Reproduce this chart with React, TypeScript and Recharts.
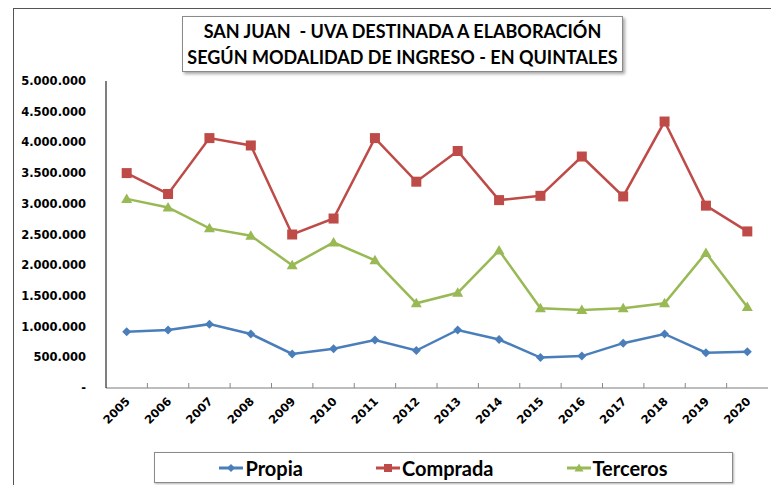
import React from "react";
import { LineChart, Line, XAxis, YAxis } from "recharts";

const years = ["2005", "2006", "2007", "2008", "2009", "2010", "2011", "2012", "2013", "2014", "2015", "2016", "2017", "2018", "2019", "2020"];
const propia = [917000, 945000, 1040000, 880000, 555000, 640000, 780000, 610000, 945000, 790000, 495000, 520000, 730000, 880000, 575000, 590000];
const comprada = [3500000, 3160000, 4070000, 3950000, 2500000, 2760000, 4070000, 3360000, 3860000, 3060000, 3130000, 3770000, 3120000, 4340000, 2970000, 2550000];
const terceros = [3080000, 2940000, 2600000, 2480000, 2000000, 2370000, 2080000, 1380000, 1550000, 2240000, 1300000, 1270000, 1300000, 1380000, 2200000, 1320000];
const yTicks = [0, 500000, 1000000, 1500000, 2000000, 2500000, 3000000, 3500000, 4000000, 4500000, 5000000];

const BLUE = "#4A7EBB";
const RED = "#BE4B48";
const GREEN = "#98B954";

const data = years.map((y, i) => ({
  year: y,
  Propia: propia[i],
  Comprada: comprada[i],
  Terceros: terceros[i],
}));

const fmt = (v: number) => (v === 0 ? "-" : String(v).replace(/\B(?=(\d{3})+(?!\d))/g, "."));

const Diamond = (p: any) => {
  const { cx, cy } = p;
  if (cx == null || cy == null) return null;
  return <path d={`M${cx},${cy - 4.5}L${cx + 4.5},${cy}L${cx},${cy + 4.5}L${cx - 4.5},${cy}Z`} fill={BLUE} />;
};
const Square = (p: any) => {
  const { cx, cy } = p;
  if (cx == null || cy == null) return null;
  return <rect x={cx - 5} y={cy - 5} width={10} height={10} fill={RED} />;
};
const Triangle = (p: any) => {
  const { cx, cy } = p;
  if (cx == null || cy == null) return null;
  return <path d={`M${cx},${cy - 5.5}L${cx + 5.5},${cy + 4}L${cx - 5.5},${cy + 4}Z`} fill={GREEN} />;
};

const BAND = 662 / 16;

const XTick = (p: any) => {
  const { x, y, payload, index } = p;
  return (
    <g>
      {index > 0 && <line x1={x - BAND / 2} x2={x - BAND / 2} y1={y - 5} y2={y} stroke="#888" />}
      <g transform={`translate(${x + 4},${y + 14}) rotate(-45)`}>
        <text
          x={0}
          y={0}
          textAnchor="end"
          fontFamily="DejaVu Sans, sans-serif"
          fontWeight="bold"
          fontSize={11.5}
          fill="#000"
        >
          {payload.value}
        </text>
      </g>
    </g>
  );
};

const legendItems = [
  { name: "Propia", color: BLUE, shape: "diamond" },
  { name: "Comprada", color: RED, shape: "square" },
  { name: "Terceros", color: GREEN, shape: "triangle" },
];

const LegendIcon = ({ color, shape }: { color: string; shape: string }) => (
  <svg width={24} height={12} style={{ marginRight: 2 }}>
    <line x1={0} x2={24} y1={6} y2={6} stroke={color} strokeWidth={3} />
    {shape === "diamond" && <path d="M12,2L16,6L12,10L8,6Z" fill={color} />}
    {shape === "square" && <rect x={8} y={2} width={8} height={8} fill={color} />}
    {shape === "triangle" && <path d="M12,1.5L16.5,9.5L7.5,9.5Z" fill={color} />}
  </svg>
);

export default function App() {
  return (
    <div style={{ position: "absolute", left: 0, top: 0, width: 771, height: 485, background: "#fff", overflow: "hidden" }}>
      <div
        style={{
          position: "absolute",
          left: 13,
          top: 8,
          width: 771,
          height: 485,
          borderLeft: "1px solid #555",
          borderTop: "1px solid #555",
        }}
      />
      <LineChart width={771} height={485} data={data} margin={{ top: 81, right: 3, left: 0, bottom: 0 }} style={{ position: "absolute", left: 0, top: 0 }}>
        <XAxis
          dataKey="year"
          height={97}
          tickLine={false}
          tickSize={0}
          tickMargin={0}
          padding={{ left: BAND / 2, right: BAND / 2 }}
          axisLine={{ stroke: "#7a7a7a" }}
          tick={<XTick />}
          interval={0}
        />
        <XAxis xAxisId="top" orientation="top" dataKey="year" height={0} tick={false} tickLine={false} axisLine={{ stroke: "#7a7a7a" }} />
        <YAxis yAxisId="right" orientation="right" width={0} domain={[0, 5000000]} tick={false} tickLine={false} axisLine={{ stroke: "#7a7a7a" }} />
        <YAxis
          width={106}
          domain={[0, 5000000]}
          ticks={yTicks}
          tickFormatter={fmt}
          tickLine={false}
          tickSize={0}
          tickMargin={20}
          axisLine={{ stroke: "#000" }}
          tick={{ fontFamily: "DejaVu Sans, sans-serif", fontWeight: "bold", fontSize: 11.5, fill: "#000" }}
          interval={0}
        />
        <Line dataKey="Propia" stroke={BLUE} strokeWidth={2.5} dot={<Diamond />} isAnimationActive={false} />
        <Line dataKey="Comprada" stroke={RED} strokeWidth={2.5} dot={<Square />} isAnimationActive={false} />
        <Line dataKey="Terceros" stroke={GREEN} strokeWidth={2.5} dot={<Triangle />} isAnimationActive={false} />
      </LineChart>
      <div
        style={{
          position: "absolute",
          left: 182,
          top: 16,
          width: 439,
          height: 53,
          border: "1px solid #8a8a8a",
          background: "#fff",
          boxShadow: "2px 2px 3px rgba(0,0,0,0.35)",
          fontFamily: "Lato, sans-serif",
          fontWeight: "bold",
          fontSize: 18,
          lineHeight: "26px",
          textAlign: "center",
          color: "#000",
          whiteSpace: "pre",
          paddingTop: 1,
        }}
      >
        {"SAN JUAN  - UVA DESTINADA A ELABORACIÓN\nSEGÚN MODALIDAD DE INGRESO - EN QUINTALES"}
      </div>
      <div
        style={{
          position: "absolute",
          left: 154,
          top: 452,
          width: 577,
          height: 29,
          border: "1px solid #8a8a8a",
          background: "#fff",
          boxShadow: "1px 1px 2px rgba(0,0,0,0.3)",
          display: "flex",
          alignItems: "center",
          justifyContent: "center",
          gap: 73,
          fontFamily: "Lato, sans-serif",
          fontWeight: "bold",
          fontSize: 20,
          color: "#000",
        }}
      >
        {legendItems.map((it) => (
          <div key={it.name} style={{ display: "flex", alignItems: "center" }}>
            <LegendIcon color={it.color} shape={it.shape} />
            <span>{it.name}</span>
          </div>
        ))}
      </div>
    </div>
  );
}
